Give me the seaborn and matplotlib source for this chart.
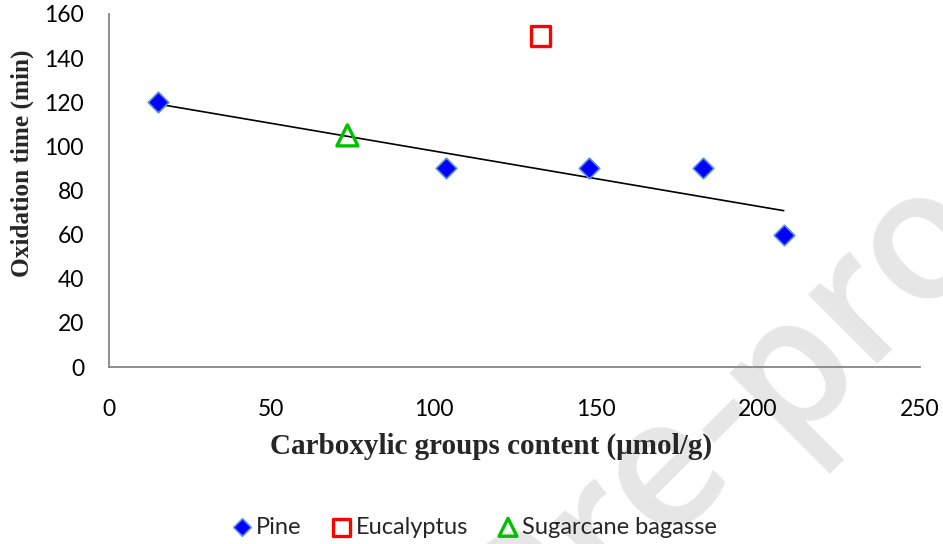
import numpy as np
import pandas as pd
import matplotlib
matplotlib.use("Agg")
import matplotlib.pyplot as plt
import seaborn as sns

# Data
pine_x = [15, 104, 148, 183, 208]
pine_y = [120, 90, 90, 90, 60]
euc_x = [133]
euc_y = [150]
sug_x = [73.5]
sug_y = [105]

x_ticks = [0, 50, 100, 150, 200, 250]
y_ticks = [0, 20, 40, 60, 80, 100, 120, 140, 160]

sns.set_theme(style="white")
plt.rcParams["font.family"] = ["Lato", "DejaVu Sans"]

fig = plt.figure(figsize=(9.43, 5.44), dpi=100)
ax = fig.add_axes([109 / 943, 1 - 367 / 544, 811 / 943, 353 / 544])

# watermark (behind everything)
wm_pt = (784 / 943, 1 - 443 / 544)
wm_kw = dict(rotation=45, rotation_mode="anchor", va="baseline", fontsize=130,
             fontweight="semibold", color="#e6e6e6",
             family=["Open Sans", "DejaVu Sans"], zorder=-5)
fig.text(*wm_pt, "proof", ha="left", **wm_kw)
fig.text(*wm_pt, "Journal Pre-", ha="right", **wm_kw)

# trend line (linear fit of Pine series)
coef = np.polyfit(pine_x, pine_y, 1)
tx = np.array([min(pine_x), max(pine_x)])
trend = pd.DataFrame({"x": tx, "y": np.polyval(coef, tx)})
sns.lineplot(data=trend, x="x", y="y", ax=ax, color="black", linewidth=1.2, zorder=2)

sns.scatterplot(x=pine_x, y=pine_y, ax=ax, marker="D", s=110, color="#0000FF",
                edgecolor="#5B8FD6", linewidth=1.2, label="Pine", zorder=3)
sns.scatterplot(x=euc_x, y=euc_y, ax=ax, marker="s", s=200, color="#FF0000",
                linewidth=2.4, label="Eucalyptus", zorder=3)
c = ax.collections[-1]
c.set_facecolor("none"); c.set_edgecolor("#FF0000")
sns.scatterplot(x=sug_x, y=sug_y, ax=ax, marker="^", s=230, color="#00C000",
                linewidth=2.4, label="Sugarcane bagasse", zorder=3)
c = ax.collections[-1]
c.set_facecolor("none"); c.set_edgecolor("#00C000")

ax.set_xlim(0, 250)
ax.set_ylim(0, 160)
ax.set_xticks(x_ticks)
ax.set_yticks(y_ticks)
ax.set_xticklabels([str(v) for v in x_ticks])
ax.set_yticklabels([str(v) for v in y_ticks])
ax.patch.set_alpha(0)

for s in ["top", "right"]:
    ax.spines[s].set_visible(False)
for s in ["left", "bottom"]:
    ax.spines[s].set_color("#868686")
    ax.spines[s].set_linewidth(1.3)
ax.tick_params(axis="both", direction="out", length=6, width=1.3, color="#868686",
               labelsize=16.5, labelcolor="black")
ax.tick_params(axis="x", pad=17)
ax.tick_params(axis="y", pad=12)

ax.set_xlabel("Carboxylic groups content (μmol/g)", fontsize=21, fontweight="bold",
              family=["Liberation Serif", "DejaVu Serif"])
ax.xaxis.set_label_coords(0.471, -0.185)
ax.set_ylabel("Oxidation time (min)", fontsize=18.2, fontweight="bold",
              family=["Liberation Serif", "DejaVu Serif"])
ax.yaxis.label.set_va("center")
ax.yaxis.set_label_coords(-0.107, 0.578)

handles, labels = ax.get_legend_handles_labels()
if ax.get_legend():
    ax.get_legend().remove()
fig.legend(handles, labels, loc="center", bbox_to_anchor=(0.502, 1 - 527 / 544), ncol=3,
           frameon=False, fontsize=17, handletextpad=0.1, columnspacing=1.2,
           handlelength=1.0, markerscale=0.85)

fig.savefig("out.png", dpi=100)
